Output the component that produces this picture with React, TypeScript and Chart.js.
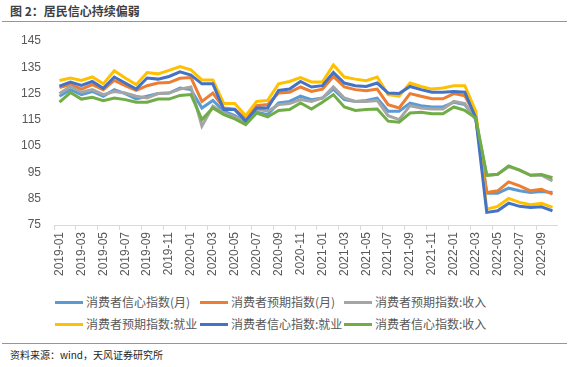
import React, { useEffect, useRef } from "react";
import { Chart, registerables } from "chart.js";

Chart.register(...registerables);

const months = [
  "2019-01","2019-02","2019-03","2019-04","2019-05","2019-06","2019-07","2019-08","2019-09","2019-10","2019-11","2019-12",
  "2020-01","2020-02","2020-03","2020-04","2020-05","2020-06","2020-07","2020-08","2020-09","2020-10","2020-11","2020-12",
  "2021-01","2021-02","2021-03","2021-04","2021-05","2021-06","2021-07","2021-08","2021-09","2021-10","2021-11","2021-12",
  "2022-01","2022-02","2022-03","2022-04","2022-05","2022-06","2022-07","2022-08","2022-09","2022-10",
];

const confidenceIndex = [
  124, 126.5, 124.6, 125.8, 124, 126.5, 125, 123, 124, 125, 125.2, 127.1,
  126.5, 119.5, 122.4, 118.3, 116.6, 114.1, 117.9, 117, 121.4, 122, 124, 122.7,
  123.3, 126.7, 122.7, 122, 122.4, 123.3, 118.3, 118.3, 121.4, 120.4, 119.9, 119.9,
  121.7, 120.8, 115.4, 87.1, 87.1, 89, 88, 87.4, 87.7, 87.4,
];
const expectationIndex = [
  127.3, 128.4, 126.7, 128.4, 126.5, 130, 128, 126.2, 128, 129, 129.2, 130.8,
  131.1, 122, 125.2, 119.5, 119.1, 115.4, 120.4, 120.8, 125.2, 125.5, 127.5, 125.8,
  126.7, 131.5, 127.5, 126.5, 126.1, 126.7, 120.8, 119.5, 125, 124, 123, 123,
  125, 124.2, 116.4, 87.4, 88, 91.4, 89.9, 88, 88.6, 86.7,
];
const expectationIncome = [
  125, 127.7, 125.5, 126.5, 124.6, 125.8, 125.2, 124, 123.3, 125, 125.2, 126.7,
  127.5, 112.6, 120.2, 117.6, 116.1, 114.5, 119.1, 118.3, 120.8, 121.2, 122.7, 122,
  123.3, 127.5, 123.3, 122, 122, 122.4, 116.6, 115.1, 120.4, 119.5, 119.1, 119.1,
  122, 121.2, 115.1, 93.9, 94.3, 97.2, 95.9, 93.9, 94, 91.8,
];
const expectationEmployment = [
  130, 130.9, 130, 131.3, 128.7, 133.7, 130.9, 128.4, 133, 132.5, 133.8, 135.3,
  134, 130.2, 130.2, 121.2, 121.2, 116.6, 122, 122.4, 128.7, 129.6, 131.1, 129.4,
  129.4, 135.9, 131.3, 130.5, 129.9, 131.3, 124.6, 124, 129, 127.7, 126.7, 127.1,
  128, 128, 118.3, 81, 82.1, 85.1, 83.6, 82.7, 83.3, 81.7,
];
const confidenceEmployment = [
  127.8, 129.4, 128.1, 129.6, 127, 131.3, 129, 126.7, 130.9, 130.5, 131.5, 133.3,
  132, 128.7, 128.7, 118.9, 118.9, 114.5, 119.5, 119.5, 126.2, 126.7, 129.6, 127.5,
  128, 133, 129, 128, 127.7, 129, 125.2, 125, 127.7, 126.5, 125.5, 125.5,
  125.8, 125.5, 115.7, 79.8, 80.4, 83.3, 82.1, 81.7, 81.9, 80.4,
];
const confidenceIncome = [
  121.7, 125.4, 122.9, 123.6, 122.3, 123.3, 122.7, 121.7, 121.7, 122.9, 122.9, 124.3,
  124.6, 115.1, 119.5, 117, 115.4, 113.2, 117.6, 116.1, 118.6, 118.9, 121.4, 119.1,
  121.7, 124.6, 119.9, 118.6, 118.9, 119.1, 114.5, 114.1, 117.6, 117.9, 117.3, 117.3,
  119.9, 118.6, 115.7, 93.9, 94.3, 97.5, 95.9, 93.9, 94.2, 93,
];

const seriesNames = [
  "消费者信心指数(月)",
  "消费者预期指数(月)",
  "消费者预期指数:收入",
  "消费者预期指数:就业",
  "消费者信心指数:就业",
  "消费者信心指数:收入",
];
const seriesColors = ["#5B9BD5", "#ED7D31", "#A5A5A5", "#FFC000", "#4472C4", "#70AD47"];
const seriesData = [
  confidenceIndex,
  expectationIndex,
  expectationIncome,
  expectationEmployment,
  confidenceEmployment,
  confidenceIncome,
];

const yMin = 75;
const yMax = 145;
const yStep = 10;

const FONT = '"Liberation Sans", "Noto Sans CJK SC", sans-serif';
const CJK = '"Noto Sans CJK SC", "Liberation Sans", sans-serif';
const TEXT = "#595959";

export default function App() {
  const canvasRef = useRef<HTMLCanvasElement | null>(null);

  useEffect(() => {
    const canvas = canvasRef.current;
    if (!canvas) return;
    const chart = new Chart(canvas, {
      type: "line",
      data: {
        labels: months,
        datasets: seriesData.map((d, i) => ({
          label: seriesNames[i],
          data: d,
          borderColor: seriesColors[i],
          backgroundColor: seriesColors[i],
          borderWidth: 3,
          pointRadius: 0,
          tension: 0,
          fill: false,
          order: 6 - i,
        })),
      },
      options: {
        animation: false,
        responsive: false,
        maintainAspectRatio: false,
        layout: { padding: { top: 41, right: 11, left: 0, bottom: 0 } },
        plugins: { legend: { display: false }, tooltip: { enabled: false } },
        scales: {
          x: {
            offset: true,
            grid: {
              offset: true,
              drawOnChartArea: false,
              drawTicks: true,
              tickLength: 5,
              color: (ctx: any) => (ctx.index % 2 === 0 ? "#D9D9D9" : "rgba(0,0,0,0)"),
            },
            border: { display: true, color: "#D9D9D9", width: 1 },
            ticks: {
              autoSkip: false,
              maxRotation: 90,
              minRotation: 90,
              padding: 2,
              color: TEXT,
              font: { family: FONT, size: 12 },
              callback: (_v: any, idx: number) => (idx % 2 === 0 ? months[idx] : ""),
            },
            afterFit: (scale: any) => {
              scale.height = 60;
            },
          },
          y: {
            min: yMin,
            max: yMax,
            grid: { display: false, drawTicks: false },
            border: { display: false },
            ticks: {
              stepSize: yStep,
              padding: 13,
              color: TEXT,
              font: { family: FONT, size: 12 },
            },
            afterFit: (scale: any) => {
              scale.width = 54;
            },
          },
        },
      },
    });
    return () => chart.destroy();
  }, []);

  const legendCols = [55, 200, 344];
  const legendRows = [302, 324];

  return (
    <div style={{ position: "absolute", left: 0, top: 0, width: 569, height: 367, background: "#fff", overflow: "hidden" }}>
      <div
        style={{
          position: "absolute",
          left: 10,
          top: 3,
          fontFamily: CJK,
          fontWeight: "bold",
          fontSize: 12,
          color: "#404040",
          whiteSpace: "nowrap",
          lineHeight: "16px",
        }}
      >
        图 2：居民信心持续偏弱
      </div>
      <div style={{ position: "absolute", left: 2, top: 21, width: 565, height: 1, background: "#ED7D31" }} />
      <canvas ref={canvasRef} width={569} height={285} style={{ position: "absolute", left: 0, top: 0, width: 569, height: 285 }} />
      {seriesNames.map((name, i) => {
        const col = i % 3;
        const row = Math.floor(i / 3);
        return (
          <div
            key={name}
            style={{
              position: "absolute",
              left: legendCols[col],
              top: legendRows[row] - 9,
              height: 18,
              display: "flex",
              alignItems: "center",
              whiteSpace: "nowrap",
            }}
          >
            <div style={{ width: 28, height: 3, background: seriesColors[i], marginRight: 3 }} />
            <span style={{ fontFamily: CJK, fontSize: 12, color: TEXT, lineHeight: "18px" }}>{name}</span>
          </div>
        );
      })}
      <div style={{ position: "absolute", left: 2, top: 343, width: 565, height: 1, background: "#ED7D31" }} />
      <div
        style={{
          position: "absolute",
          left: 10,
          top: 348,
          fontFamily: CJK,
          fontSize: 10,
          color: "#262626",
          whiteSpace: "nowrap",
          lineHeight: "14px",
        }}
      >
        资料来源：wind，天风证券研究所
      </div>
    </div>
  );
}
